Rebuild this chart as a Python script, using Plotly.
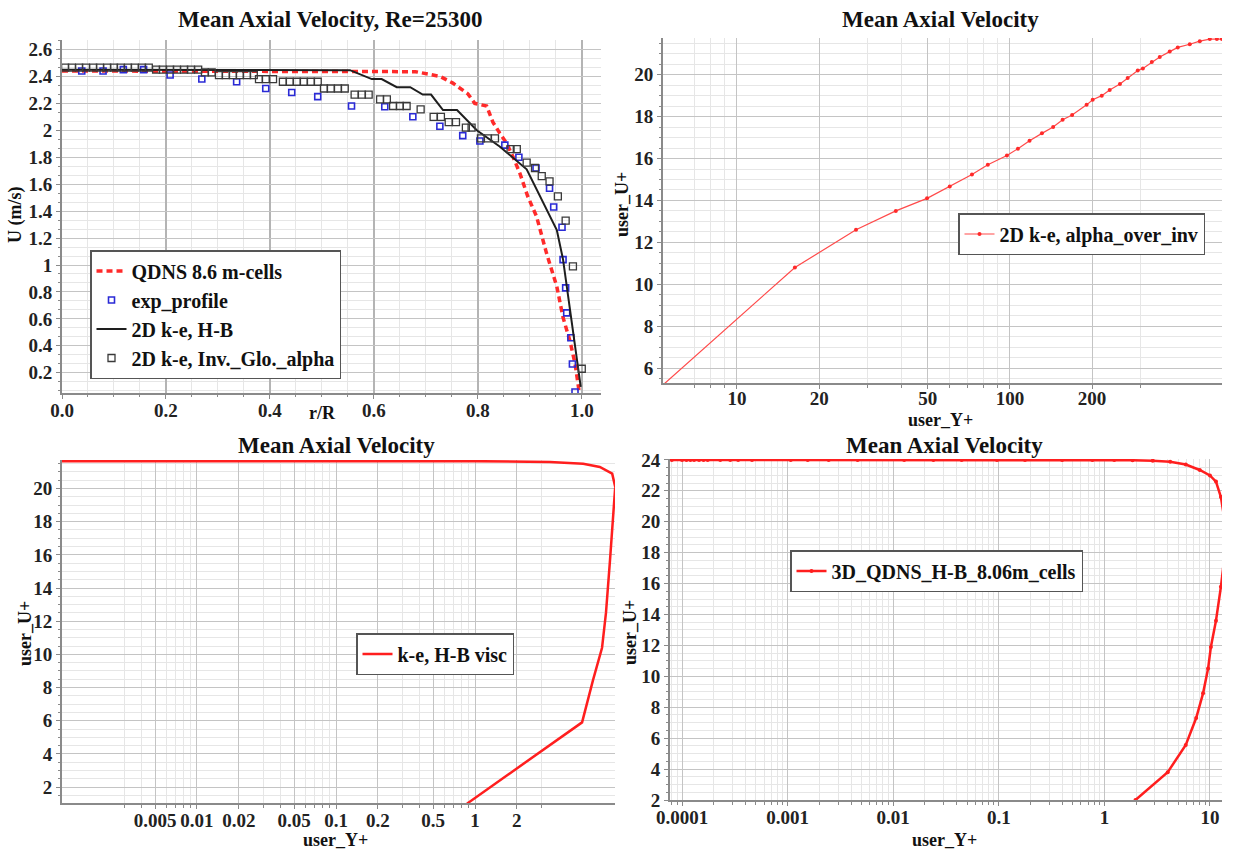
import plotly.graph_objects as go

W, H = 1233, 851
FONT = "Liberation Serif"

# ---------------- Mean axial velocity vs r/R (Re = 25300) ----------------
qdns_r = [0.0, 0.1, 0.2, 0.3, 0.4, 0.5, 0.6, 0.68, 0.727, 0.752, 0.781, 0.794, 0.817, 0.829,
          0.842, 0.856, 0.868, 0.881, 0.896, 0.913, 0.932, 0.952, 0.964, 0.977, 0.987, 0.995]
qdns_u = [2.44, 2.44, 2.44, 2.44, 2.44, 2.44, 2.44, 2.435, 2.40, 2.35, 2.27, 2.20, 2.18, 2.06,
          1.98, 1.90, 1.80, 1.68, 1.51, 1.36, 1.09, 0.84, 0.61, 0.44, 0.27, 0.06]

exp_r = [0.038, 0.079, 0.118, 0.157, 0.208, 0.269, 0.336, 0.392, 0.442, 0.492, 0.557, 0.621,
         0.675, 0.727, 0.771, 0.804, 0.852, 0.879, 0.912, 0.938, 0.946, 0.962, 0.964, 0.969,
         0.971, 0.979, 0.982, 0.987]
exp_u = [2.44, 2.44, 2.45, 2.45, 2.41, 2.38, 2.36, 2.31, 2.28, 2.25, 2.18, 2.175,
         2.10, 2.03, 1.96, 1.92, 1.89, 1.80, 1.72, 1.57, 1.43, 1.28, 1.04, 0.83,
         0.645, 0.46, 0.265, 0.057]

hb_r = [0.0, 0.3, 0.5, 0.554, 0.596, 0.615, 0.644, 0.67, 0.694, 0.71, 0.733, 0.76, 0.798,
        0.842, 0.894, 0.932, 0.952, 0.964, 0.977, 0.99, 0.998]
hb_u = [2.45, 2.45, 2.45, 2.446, 2.38, 2.38, 2.32, 2.32, 2.265, 2.265, 2.15, 2.15, 2.0,
        1.88, 1.71, 1.42, 1.26, 1.04, 0.67, 0.295, 0.095]

inv_r = [0.006, 0.019, 0.033, 0.046, 0.060, 0.073, 0.087, 0.100, 0.113, 0.127, 0.140, 0.154,
         0.167, 0.181, 0.194, 0.208, 0.221, 0.235, 0.248, 0.262, 0.275, 0.288, 0.302, 0.315,
         0.329, 0.342, 0.356, 0.369, 0.379, 0.392, 0.406, 0.425, 0.438, 0.452, 0.465, 0.479,
         0.492, 0.504, 0.517, 0.531, 0.544, 0.563, 0.577, 0.590, 0.612, 0.625, 0.637, 0.650,
         0.663, 0.690, 0.715, 0.729, 0.744, 0.758, 0.777, 0.788, 0.806, 0.819, 0.833, 0.863,
         0.875, 0.894, 0.910, 0.923, 0.938, 0.954, 0.969, 0.983, 1.0]
inv_u = [2.465, 2.465, 2.465, 2.465, 2.465, 2.465, 2.465, 2.465, 2.465, 2.465, 2.465, 2.465,
         2.465, 2.45, 2.45, 2.45, 2.45, 2.45, 2.45, 2.45, 2.43, 2.43, 2.41, 2.41,
         2.41, 2.41, 2.41, 2.41, 2.38, 2.38, 2.38, 2.36, 2.36, 2.36, 2.36, 2.36,
         2.36, 2.31, 2.31, 2.31, 2.31, 2.265, 2.265, 2.265, 2.23, 2.23, 2.18, 2.18,
         2.18, 2.155, 2.10, 2.10, 2.06, 2.06, 2.02, 2.02, 1.94, 1.94, 1.94, 1.86,
         1.86, 1.76, 1.72, 1.66, 1.62, 1.51, 1.33, 0.99, 0.23]

# ---------------- 2D k-e, alpha_over_inv : U+ vs Y+ ----------------
ao_yplus = [5.36, 16.3, 27.3, 38.2, 49.7, 60.2, 72.6, 83, 97.5, 107, 118, 131, 144, 156, 169,
            191, 201, 217, 232, 253, 270, 294, 307, 331, 354, 385, 412, 456, 496, 540, 573, 598]
ao_uplus = [5.2, 10.8, 12.6, 13.5, 14.1, 14.67, 15.24, 15.7, 16.14, 16.47, 16.85, 17.2, 17.5,
            17.85, 18.08, 18.56, 18.8, 19.0, 19.27, 19.56, 19.84, 20.2, 20.3, 20.6, 20.84,
            21.1, 21.3, 21.45, 21.6, 21.7, 21.7, 21.7]

# ---------------- k-e, H-B visc : U+ vs Y+ ----------------
hbv_yplus = [0.001, 0.01, 0.1, 1.0, 3.46, 6.0, 7.9, 9.7, 10.2, 9.84, 9.36, 8.75, 8.2, 7.06,
             5.89, 0.875]
hbv_uplus = [21.65, 21.65, 21.65, 21.65, 21.6, 21.5, 21.3, 20.9, 20.1, 18.1, 15.7, 12.5,
             10.4, 8.45, 5.9, 1.0]

# ---------------- 3D_QDNS_H-B_8.06m_cells : U+ vs Y+ ----------------
q3_yplus = [8e-5, 1.0e-4, 1.1e-4, 1.2e-4, 1.3e-4, 1.45e-4, 1.6e-4, 1.75e-4, 2.3e-4, 2.86e-4,
            3.4e-4, 4.6e-4, 1.07e-3, 1.55e-3, 2.45e-3, 4.6e-3, 0.0127, 0.024, 0.0445, 0.096,
            0.177, 0.398, 0.77, 1.24, 1.85, 2.87, 4.2, 5.9, 8.0, 10.0, 11.4, 12.7, 13.6, 13.8,
            13.6, 12.7, 11.4, 10.2, 9.6, 8.6, 7.4, 5.9, 3.98, 1.97]
q3_uplus = [24.0, 24.0, 24.0, 24.0, 24.0, 24.0, 24.0, 24.0, 24.0, 24.0,
            24.0, 24.0, 24.0, 24.0, 24.0, 24.0, 24.0, 24.0, 24.0, 24.0,
            24.0, 24.0, 24.0, 24.0, 23.98, 23.95, 23.88, 23.7, 23.35, 23.0, 22.6, 21.6, 20.3, 19.0,
            17.5, 15.8, 13.6, 11.9, 10.5, 8.9, 7.3, 5.56, 3.8, 2.0]


def px_x(p):
    return p / W


def px_y(p):
    return 1 - p / H


fig = go.Figure()

fig.add_trace(go.Scatter(x=qdns_r, y=qdns_u, mode="lines", name="QDNS 8.6 m-cells",
                         line=dict(color="#ff2a2a", width=3.5, dash="6px,4px"),
                         xaxis="x", yaxis="y", legend="legend"))
fig.add_trace(go.Scatter(x=exp_r, y=exp_u, mode="markers", name="exp_profile",
                         marker=dict(symbol="square-open", size=6, color="#2a2ad6",
                                     line=dict(width=1.6, color="#2a2ad6")),
                         xaxis="x", yaxis="y", legend="legend"))
fig.add_trace(go.Scatter(x=hb_r, y=hb_u, mode="lines", name="2D k-e, H-B",
                         line=dict(color="#1e1e1e", width=2),
                         xaxis="x", yaxis="y", legend="legend"))
fig.add_trace(go.Scatter(x=inv_r, y=inv_u, mode="markers", name="2D k-e, Inv._Glo._alpha",
                         marker=dict(symbol="square-open", size=7, color="#3a3a3a",
                                     line=dict(width=1.3, color="#3a3a3a")),
                         xaxis="x", yaxis="y", legend="legend"))

fig.add_trace(go.Scatter(x=ao_yplus, y=ao_uplus, mode="lines+markers",
                         name="2D k-e, alpha_over_inv",
                         line=dict(color="#ff4a4a", width=1.2),
                         marker=dict(symbol="circle", size=4, color="#ff2a2a"),
                         xaxis="x2", yaxis="y2", legend="legend2"))

fig.add_trace(go.Scatter(x=hbv_yplus, y=hbv_uplus, mode="lines", name="k-e, H-B visc",
                         line=dict(color="#ff1e1e", width=2.5),
                         xaxis="x3", yaxis="y3", legend="legend3"))

fig.add_trace(go.Scatter(x=q3_yplus, y=q3_uplus, mode="lines+markers",
                         name="3D_QDNS_H-B_8.06m_cells",
                         line=dict(color="#ff1e1e", width=2.5),
                         marker=dict(symbol="circle", size=4, color="#ff1e1e"),
                         xaxis="x4", yaxis="y4", legend="legend4"))

tick_font = dict(family=FONT, size=19, color="#222222", weight="bold")
MAJOR_GRID = "#c4c4c4"
MINOR_GRID = "#e6e6e6"


def axis(domain, anchor, rng, standoff=None, **kw):
    base = dict(domain=domain, anchor=anchor, range=rng, showline=True, linecolor="#8a8a8a",
                linewidth=2, mirror=False, ticks="outside", ticklen=4, tickcolor="#8a8a8a",
                showgrid=True, gridcolor=MAJOR_GRID, gridwidth=1.2, zeroline=False,
                tickfont=tick_font, layer="below traces", automargin=False)
    if standoff is not None:
        base["ticklabelstandoff"] = standoff
    base.update(kw)
    return base


minor_lin = lambda d: dict(dtick=d, tick0=0, showgrid=True, gridcolor=MINOR_GRID,
                           gridwidth=1, ticks="outside", ticklen=2, tickcolor="#8a8a8a")

layout = dict(
    template="none",
    width=W, height=H, margin=dict(l=0, r=0, t=0, b=0, pad=0, autoexpand=False),
    paper_bgcolor="white", plot_bgcolor="white", showlegend=True,
    font=dict(family=FONT, color="#111111"),
    xaxis=axis([px_x(62), px_x(601)], "y", [0, 1.037], -5, dtick=0.2, tick0=0,
               tickformat=".1f", minor=minor_lin(0.05), gridcolor="#b4b4b4", gridwidth=1.5),
    yaxis=axis([px_y(393), px_y(40)], "x", [0.05, 2.67], dtick=0.2, tick0=0,
               minor=minor_lin(0.2 / 3)),
    xaxis2=axis([px_x(663), px_x(1222)], "y2", [0.729, 2.777], -7, type="log",
                tickvals=[10, 20, 50, 100, 200], ticktext=["10", "20", "50", "100", "200"],
                minor=dict(tickvals=[7, 8, 9, 30, 40, 60, 70, 80, 90, 300], showgrid=True,
                           gridcolor=MINOR_GRID, ticks="outside", ticklen=3,
                           tickcolor="#8a8a8a")),
    yaxis2=axis([px_y(383), px_y(38)], "x2", [5.29, 21.75], dtick=2, tick0=0,
                minor=minor_lin(0.5)),
    xaxis3=axis([px_x(62), px_x(615)], "y3", [-2.971, 1.007], -5, type="log",
                tickvals=[0.005, 0.01, 0.02, 0.05, 0.1, 0.2, 0.5, 1, 2],
                ticktext=["0.005", "0.01", "0.02", "0.05", "0.1", "0.2", "0.5", "1", "2"],
                minor=dict(tickvals=[0.003, 0.004, 0.006, 0.007, 0.008, 0.009,
                                     0.03, 0.04, 0.06, 0.07, 0.08, 0.09,
                                     0.3, 0.4, 0.6, 0.7, 0.8, 0.9, 3],
                           showgrid=True, gridcolor=MINOR_GRID, ticks="outside", ticklen=3,
                           tickcolor="#8a8a8a")),
    yaxis3=axis([px_y(803), px_y(460)], "x3", [1.04, 21.72], dtick=2, tick0=0,
                minor=minor_lin(0.5)),
    xaxis4=axis([px_x(670), px_x(1222)], "y4", [-4.114, 1.114], -5, type="log",
                tickvals=[1e-4, 1e-3, 1e-2, 0.1, 1, 10],
                ticktext=["0.0001", "0.001", "0.01", "0.1", "1", "10"],
                minor=dict(dtick="D1", showgrid=True, gridcolor=MINOR_GRID, ticks="outside",
                           ticklen=3, tickcolor="#8a8a8a")),
    yaxis4=axis([px_y(800), px_y(459)], "x4", [2, 24.06], dtick=2, tick0=0,
                minor=minor_lin(0.5)),
)

leg_common = dict(xanchor="left", yanchor="top", bgcolor="white", bordercolor="#555555",
                  borderwidth=1.5, itemwidth=30, tracegroupgap=0)
layout["legend"] = dict(leg_common, x=px_x(90), y=px_y(250),
                        font=dict(family=FONT, size=20, color="#111111", weight="bold"))
layout["legend2"] = dict(leg_common, x=px_x(958), y=px_y(213),
                         font=dict(family=FONT, size=20, color="#111111", weight="bold"))
layout["legend3"] = dict(leg_common, x=px_x(356), y=px_y(633),
                         font=dict(family=FONT, size=20, color="#111111", weight="bold"))
layout["legend4"] = dict(leg_common, x=px_x(790), y=px_y(550),
                         font=dict(family=FONT, size=20, color="#111111", weight="bold"))

fig.update_layout(**layout)


def label(text, x, y, size, angle=0):
    fig.add_annotation(text=text, x=px_x(x), y=px_y(y), xref="paper", yref="paper",
                       xanchor="center", yanchor="middle", showarrow=False, textangle=angle,
                       font=dict(family=FONT, size=size, color="#111111", weight="bold"))


# panel titles
label("Mean Axial Velocity, Re=25300", 330, 20, 23)
label("Mean Axial Velocity", 940, 20, 23)
label("Mean Axial Velocity", 336, 445, 23)
label("Mean Axial Velocity", 945, 445, 23)

# axis titles
label("r/R", 322, 413, 18)
label("U (m/s)", 15, 215, 18, -90)
label("user_Y+", 940, 420, 18)
label("user_U+", 622, 205, 18, -90)
label("user_Y+", 335, 840, 18)
label("user_U+", 25, 633, 18, -90)
label("user_Y+", 945, 840, 18)
label("user_U+", 630, 633, 18, -90)

fig.write_html("out.html")
